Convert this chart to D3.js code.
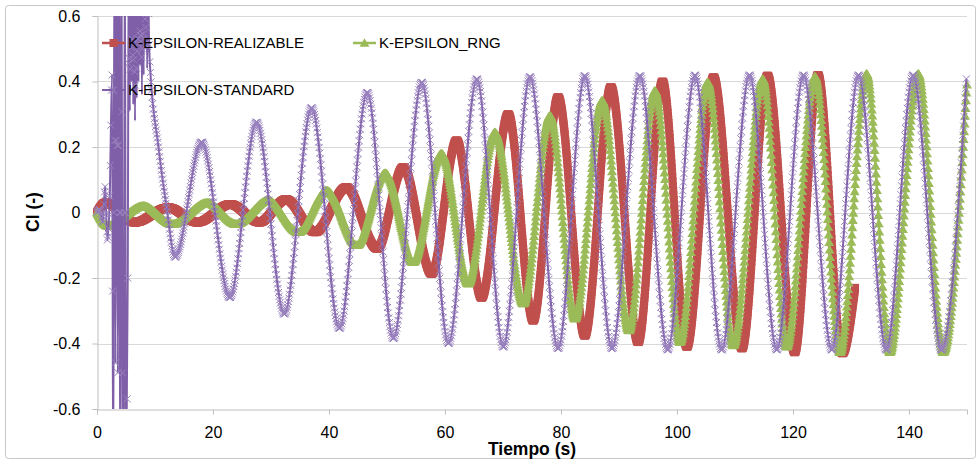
<!DOCTYPE html>
<html><head><meta charset="utf-8">
<script src="https://cdn.jsdelivr.net/npm/d3@7"></script>
<style>
body{margin:0;background:#fff}
svg{display:block}
text{font-family:"Liberation Sans",Arial,sans-serif;fill:#000}
</style>
</head><body>
<svg id="chart" width="977" height="461"></svg>
<script>
// ---------------- DATA ----------------
const xTickValues = [0, 20, 40, 60, 80, 100, 120, 140];
const yTickValues = [-0.6, -0.4, -0.2, 0, 0.2, 0.4, 0.6];
const yTickLabels = ["-0.6", "-0.4", "-0.2", "0", "0.2", "0.4", "0.6"];
const seriesNames = ["K-EPSILON-REALIZABLE", "K-EPSILON_RNG", "K-EPSILON-STANDARD"];

// K-EPSILON-REALIZABLE : time (s) and Cl at turning points
const timeRealizable = [0, 1.5, 6.5, 12.3, 17.3, 23, 28, 32.6, 37.6, 43, 48.3, 52.8, 57.7, 62.0, 66.3, 70.9, 75.2, 79.5, 84.1, 88.6, 93.3, 97.5, 101.7, 106.3, 111.2, 115.6, 120.3, 124.3, 128.5, 130.7];
const clRealizable   = [0, 0.03, -0.03, 0.015, -0.03, 0.025, -0.03, 0.04, -0.06, 0.077, -0.11, 0.138, -0.187, 0.22, -0.26, 0.30, -0.33, 0.352, -0.376, 0.383, -0.396, 0.40, -0.41, 0.413, -0.415, 0.418, -0.427, 0.42, -0.43, -0.23];

// K-EPSILON_RNG
const timeRNG = [0, 1.8, 8, 13, 19, 24, 29.5, 34.7, 39.6, 44.8, 49.7, 54.5, 59.4, 64, 68.6, 73.5, 78.1, 82.4, 87.1, 91.7, 96.2, 100.5, 105.3, 109.7, 114.8, 118.9, 123.8, 128.1, 132.7, 136.7, 141.6, 145.9, 150];
const clRNG   = [0, -0.04, 0.02, -0.035, 0.03, -0.035, 0.037, -0.06, 0.067, -0.10, 0.12, -0.152, 0.18, -0.217, 0.245, -0.278, 0.296, -0.324, 0.342, -0.36, 0.372, -0.396, 0.398, -0.406, 0.408, -0.41, 0.415, -0.427, 0.424, -0.427, 0.424, -0.427, 0.39];

// K-EPSILON-STANDARD (noisy start, values beyond the axis are clipped)
const timeStandard = [0, 0.5, 1.0, 1.4, 1.8, 2.2, 2.6, 2.8, 3.0, 3.2, 3.4, 3.6, 3.8, 4.0, 4.2, 4.4, 4.6, 4.8, 5.0, 5.3, 5.5, 5.65, 5.8, 5.95, 6.1, 6.25, 6.4, 6.55, 6.7, 6.85, 7.0, 7.15, 7.3, 7.45, 7.6, 7.75, 7.9, 8.05, 8.2, 8.35, 8.5, 8.65, 8.8, 8.95, 9.1, 10.6, 12.0, 13.45, 18.05, 22.9, 27.5, 32.3, 37.0, 41.8, 46.6, 51.1, 56.0, 60.6, 65.5, 70.05, 74.65, 79.5, 84.1, 88.8, 93.6, 98.4, 103.1, 107.7, 112.5, 117.2, 121.8, 126.7, 131.3, 136.1, 140.7, 145.6, 149.9];
const clStandard   = [0, 0.01, -0.03, 0.08, -0.085, 0.05, 0.42, -0.9, 0.9, -0.46, 0.9, -0.49, 0.9, -0.9, 0.9, -0.49, -0.9, 0.9, -0.9, -0.2, 0.9, 0.31, 0.8, 0.4, 0.9, 0.33, 0.85, 0.28, 0.7, 0.35, 0.9, 0.4, 0.85, 0.45, 0.8, 0.36, 0.9, 0.42, 0.85, 0.5, 0.75, 0.44, 0.7, 0.55, 0.46, 0.2, 0.016, -0.136, 0.215, -0.26, 0.276, -0.31, 0.32, -0.354, 0.367, -0.385, 0.398, -0.40, 0.408, -0.411, 0.415, -0.416, 0.418, -0.416, 0.418, -0.42, 0.42, -0.42, 0.42, -0.42, 0.42, -0.42, 0.42, -0.42, 0.42, -0.42, 0.408];

// ---------------- CHART ----------------
const svg = d3.select("#chart");
const plot = {left: 97, right: 967, top: 16, bottom: 409};
const x = d3.scaleLinear().domain([0, 150]).range([plot.left, plot.right]);
const y = d3.scaleLinear().domain([-0.6, 0.6]).range([plot.bottom, plot.top]);

// outer border
svg.append("rect").attr("x", 5.5).attr("y", 5.5).attr("width", 970).attr("height", 453)
  .attr("rx", 3).attr("fill", "#fff").attr("stroke", "#c8c8c8").attr("stroke-width", 1);

// gridlines
svg.append("g").selectAll("line").data(yTickValues.filter(v => v > -0.6)).join("line")
  .attr("x1", plot.left).attr("x2", plot.right)
  .attr("y1", d => Math.round(y(d)) + 0.5).attr("y2", d => Math.round(y(d)) + 0.5)
  .attr("stroke", "#d9d9d9").attr("stroke-width", 1);

// axes
const xAxis = d3.axisBottom(x).tickValues(xTickValues).tickSize(5).tickFormat(d3.format("d"));
const gx = svg.append("g").attr("transform", `translate(0,${plot.bottom + 0.5})`).call(xAxis);
gx.select(".domain").attr("stroke", "#bfbfbf");
gx.selectAll(".tick line").attr("stroke", "#bfbfbf");
gx.selectAll(".tick text").attr("font-size", 16).attr("font-family", "Liberation Sans, Arial, sans-serif")
  .attr("fill", "#000").attr("y", 17);

const yAxis = d3.axisLeft(y).tickValues(yTickValues).tickSize(5)
  .tickFormat((d, i) => yTickLabels[i]);
const gy = svg.append("g").attr("transform", `translate(${plot.left + 0.5},0)`).call(yAxis);
gy.select(".domain").attr("stroke", "#bfbfbf");
gy.selectAll(".tick line").attr("stroke", "#bfbfbf");
gy.selectAll(".tick text").attr("font-size", 16).attr("font-family", "Liberation Sans, Arial, sans-serif")
  .attr("fill", "#000").attr("x", -17);

// axis titles
svg.append("text").attr("x", 532).attr("y", 455).attr("text-anchor", "middle")
  .attr("font-size", 17.5).attr("font-weight", "bold").text("Tiempo (s)");
svg.append("text").attr("transform", "translate(39,212) rotate(-90)").attr("text-anchor", "middle")
  .attr("font-size", 17.5).attr("font-weight", "bold").text("Cl (-)");

// clip
svg.append("clipPath").attr("id", "clip").append("rect")
  .attr("x", plot.left - 8).attr("y", plot.top).attr("width", plot.right - plot.left + 14)
  .attr("height", plot.bottom - plot.top);

const colors = {red: "#C0504D", green: "#9BBB59", purple: "#7F60A8", purpleMarker: "#9880BE"};
const series = [
  {name: seriesNames[0], t: timeRealizable, v: clRealizable, color: colors.red, marker: "square", dt: 0.05, lw: 2.5},
  {name: seriesNames[1], t: timeRNG, v: clRNG, color: colors.green, marker: "triangle", dt: 0.08, lw: 2.5},
  {name: seriesNames[2], t: timeStandard, v: clStandard, color: colors.purple, marker: "cross", dt: 0.1, lw: 2}
];

const line = d3.line().x(d => x(d[0])).y(d => y(d[1])).curve(d3.curveMonotoneX);
const layer = svg.append("g").attr("clip-path", "url(#clip)");

const triPath = d3.symbol().type(d3.symbolTriangle).size(42)();

function drawMarker(g, kind, px, py, s) {
  if (kind === "square") {
    g.append("rect").attr("x", px - 4).attr("y", py - 4).attr("width", 8).attr("height", 8)
      .attr("fill", s.color);
  } else if (kind === "triangle") {
    g.append("path").attr("d", triPath).attr("transform", `translate(${px},${py + 1})`).attr("fill", s.color);
  } else {
    g.append("path").attr("d", `M${px-3.5},${py-3.5}L${px+3.5},${py+3.5}M${px-3.5},${py+3.5}L${px+3.5},${py-3.5}`)
      .attr("stroke", colors.purpleMarker).attr("stroke-width", 1).attr("fill", "none");
  }
}

series.forEach(s => {
  const pts = s.t.map((t, i) => [t, s.v[i]]);
  const g = layer.append("g");
  const p = g.append("path").attr("d", line(pts)).attr("fill", "none")
    .attr("stroke", s.color).attr("stroke-width", s.lw).attr("stroke-linejoin", "round");
  // sample the library-drawn curve to place markers at the recorded time steps
  const node = p.node();
  const L = node.getTotalLength();
  const sx = [], sy = [];
  for (let l = 0; l <= L; l += 1) { const q = node.getPointAtLength(l); sx.push(q.x); sy.push(q.y); }
  const q = node.getPointAtLength(L); sx.push(q.x); sy.push(q.y);
  const tEnd = s.t[s.t.length - 1];
  const mg = g.append("g");
  let j = 0;
  for (let k = 0; ; k++) {
    const t = k * s.dt;
    if (t > tEnd + 1e-9) break;
    const px = x(t);
    while (j < sx.length - 2 && sx[j + 1] < px) j++;
    const x0 = sx[j], x1 = sx[j + 1];
    const f = x1 > x0 ? Math.max(0, Math.min(1, (px - x0) / (x1 - x0))) : 0;
    const py = sy[j] + f * (sy[j + 1] - sy[j]);
    drawMarker(mg, s.marker, px, py, s);
  }
});

// legend
const legend = svg.append("g");
const legendItems = [
  {s: series[0], x: 102, y: 43},
  {s: series[1], x: 353, y: 43},
  {s: series[2], x: 102, y: 90}
];
legendItems.forEach(it => {
  legend.append("line").attr("x1", it.x).attr("x2", it.x + 23).attr("y1", it.y).attr("y2", it.y)
    .attr("stroke", it.s.color).attr("stroke-width", it.s.lw);
  drawMarker(legend, it.s.marker, it.x + 11.5, it.y, it.s);
  legend.append("text").attr("x", it.x + 26).attr("y", it.y).attr("dy", "0.36em")
    .attr("font-size", 15).text(it.s.name);
});
</script>
</body></html>
